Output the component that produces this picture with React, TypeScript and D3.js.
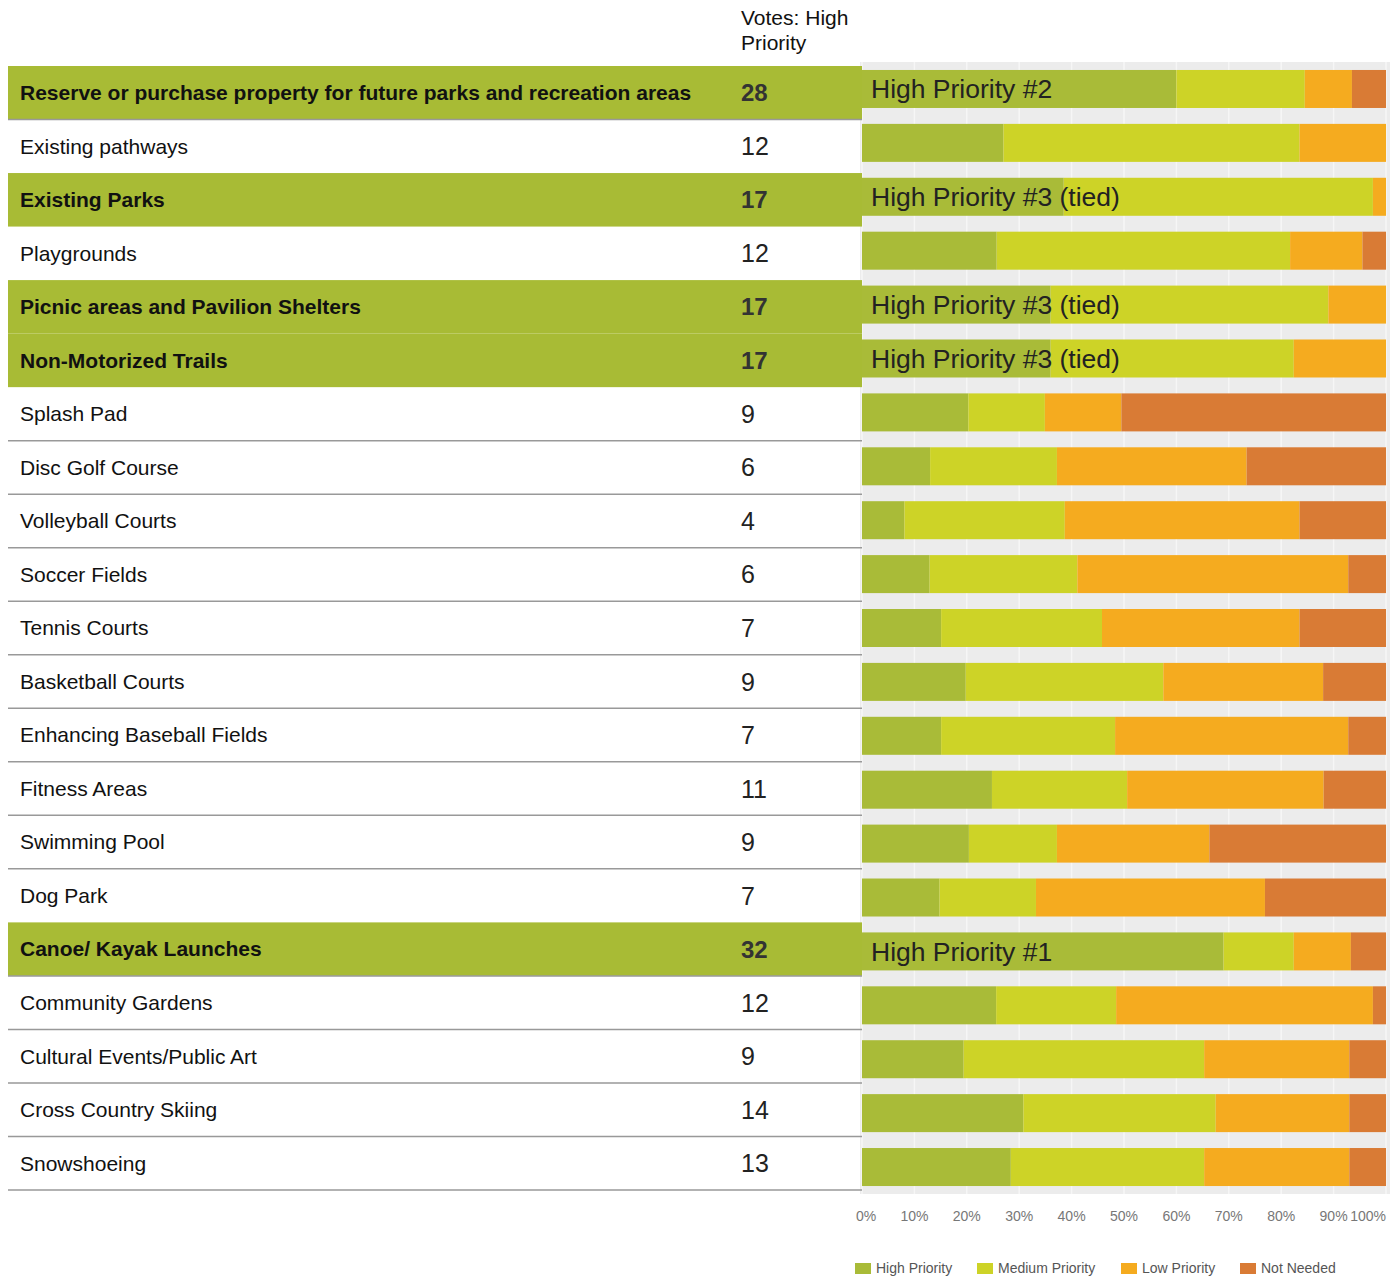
import React from "react";
import * as d3 from "d3";

const categories = [
  "Reserve or purchase property for future parks and recreation areas",
  "Existing pathways",
  "Existing Parks",
  "Playgrounds",
  "Picnic areas and Pavilion Shelters",
  "Non-Motorized Trails",
  "Splash Pad",
  "Disc Golf Course",
  "Volleyball Courts",
  "Soccer Fields",
  "Tennis Courts",
  "Basketball Courts",
  "Enhancing Baseball Fields",
  "Fitness Areas",
  "Swimming Pool",
  "Dog Park",
  "Canoe/ Kayak Launches",
  "Community Gardens",
  "Cultural Events/Public Art",
  "Cross Country Skiing",
  "Snowshoeing",
];

const votes = [28, 12, 17, 12, 17, 17, 9, 6, 4, 6, 7, 9, 7, 11, 9, 7, 32, 12, 9, 14, 13];

const rankLabels = [
  "High Priority #2", "", "High Priority #3 (tied)", "", "High Priority #3 (tied)", "High Priority #3 (tied)",
  "", "", "", "", "", "", "", "", "", "", "High Priority #1", "", "", "", "",
];

const highPriority = [60, 27, 38.5, 25.7, 36, 36, 20.3, 13, 8.1, 12.9, 15.1, 19.8, 15.1, 24.8, 20.4, 14.8, 69, 25.6, 19.4, 30.8, 28.4];
const mediumPriority = [24.5, 56.5, 59, 56, 53, 46.4, 14.6, 24.2, 30.6, 28.2, 30.7, 37.7, 33.2, 25.8, 16.8, 18.4, 13.4, 22.9, 45.9, 36.7, 36.9];
const lowPriority = [9, 16.5, 2.5, 13.8, 11, 17.6, 14.6, 36.2, 44.8, 51.7, 37.7, 30.5, 44.5, 37.5, 29.1, 43.7, 10.9, 49, 27.7, 25.5, 27.7];
const notNeeded = [6.5, 0, 0, 4.5, 0, 0, 50.5, 26.6, 16.5, 7.2, 16.5, 12, 7.2, 11.9, 33.7, 23.1, 6.7, 2.5, 7, 7, 7];

const seriesKeys = ["High Priority", "Medium Priority", "Low Priority", "Not Needed"];
const seriesColors = ["#a9bb38", "#cdd327", "#f5ab1f", "#d97b35"];
const tickValues = [0, 10, 20, 30, 40, 50, 60, 70, 80, 90, 100];

const FONT = "'Liberation Sans', Arial, Helvetica, sans-serif";

export default function App() {
  const W = 1400;
  const H = 1276;

  const rows = categories.map((c, i) => ({
    name: c,
    "High Priority": highPriority[i],
    "Medium Priority": mediumPriority[i],
    "Low Priority": lowPriority[i],
    "Not Needed": notNeeded[i],
  }));
  const stacked = d3.stack<any>().keys(seriesKeys)(rows);

  const x = d3.scaleLinear().domain([0, 100]).range([862, 1386]);
  const yBar = d3.scaleBand<string>().domain(categories).range([62, 1194]).paddingInner(0.295).paddingOuter(0.148);
  const yRow = d3.scaleBand<string>().domain(categories).range([66, 1190]).padding(0);
  const color = d3.scaleOrdinal<string, string>().domain(seriesKeys).range(seriesColors);

  const hl = (i: number) => rankLabels[i] !== "";

  return (
    <svg width={W} height={H} style={{ position: "absolute", left: 0, top: 0, background: "#fff" }} fontFamily={FONT}>
      {/* header */}
      <text x={741} y={25} fontSize={21} fill="#111">Votes: High</text>
      <text x={741} y={50} fontSize={21} fill="#111">Priority</text>

      {/* bar background */}
      <rect x={860} y={62} width={530} height={1132} fill="#ececec" />
      {tickValues.map((t) => (
        <line key={"g" + t} x1={x(t)} x2={x(t)} y1={62} y2={1194} stroke="#ffffff" strokeOpacity={0.55} strokeWidth={1.5} />
      ))}

      {/* table rows */}
      {categories.map((c, i) => {
        const y0 = yRow(c)!;
        const h = yRow.bandwidth();
        const next = i + 1 < categories.length ? hl(i + 1) : false;
        const drawLine = (!hl(i) && !next) || i === 0 || i === 16;
        return (
          <g key={"r" + i}>
            {hl(i) && <rect x={8} y={y0} width={854} height={h} fill="#a8bb35" />}
            {drawLine && <line x1={8} x2={862} y1={y0 + h} y2={y0 + h} stroke="#999" strokeWidth={1.5} />}
            <text x={20} y={y0 + h / 2} dy="0.35em" fontSize={21} fontWeight={hl(i) ? "bold" : "normal"} fill="#111">
              {c}
            </text>
            <text x={741} y={y0 + h / 2} dy="0.36em" fontSize={hl(i) ? 24 : 25} fontWeight={hl(i) ? "bold" : "normal"} fill={hl(i) ? "#333" : "#222"}>
              {votes[i]}
            </text>
          </g>
        );
      })}

      {/* stacked bars */}
      {stacked.map((s) => (
        <g key={s.key} fill={color(s.key)}>
          {s.map((d, i) => (
            <rect key={i} x={x(d[0])} y={yBar(categories[i])!} width={Math.max(0, x(d[1]) - x(d[0]))} height={yBar.bandwidth()} />
          ))}
        </g>
      ))}

      {/* rank labels */}
      {categories.map((c, i) =>
        hl(i) ? (
          <text key={"rl" + i} x={x(0) + 9} y={yBar(c)! + yBar.bandwidth() / 2} dy="0.35em" fontSize={26.5} fill="#222">
            {rankLabels[i]}
          </text>
        ) : null
      )}

      {/* axis tick labels */}
      {tickValues.map((t) => (
        <text
          key={"t" + t}
          x={t === 0 ? x(t) - 6 : x(t)}
          y={1221}
          fontSize={14}
          fill="#777"
          textAnchor={t === 0 ? "start" : t === 100 ? "end" : "middle"}
        >
          {t}%
        </text>
      ))}

      {/* legend */}
      {seriesKeys.map((k, i) => {
        const lx = [855, 977, 1121, 1240][i];
        return (
          <g key={"l" + k}>
            <rect x={lx} y={1263} width={16} height={11} fill={color(k)} />
            <text x={lx + 21} y={1273} fontSize={14} fill="#555">{k}</text>
          </g>
        );
      })}
    </svg>
  );
}
